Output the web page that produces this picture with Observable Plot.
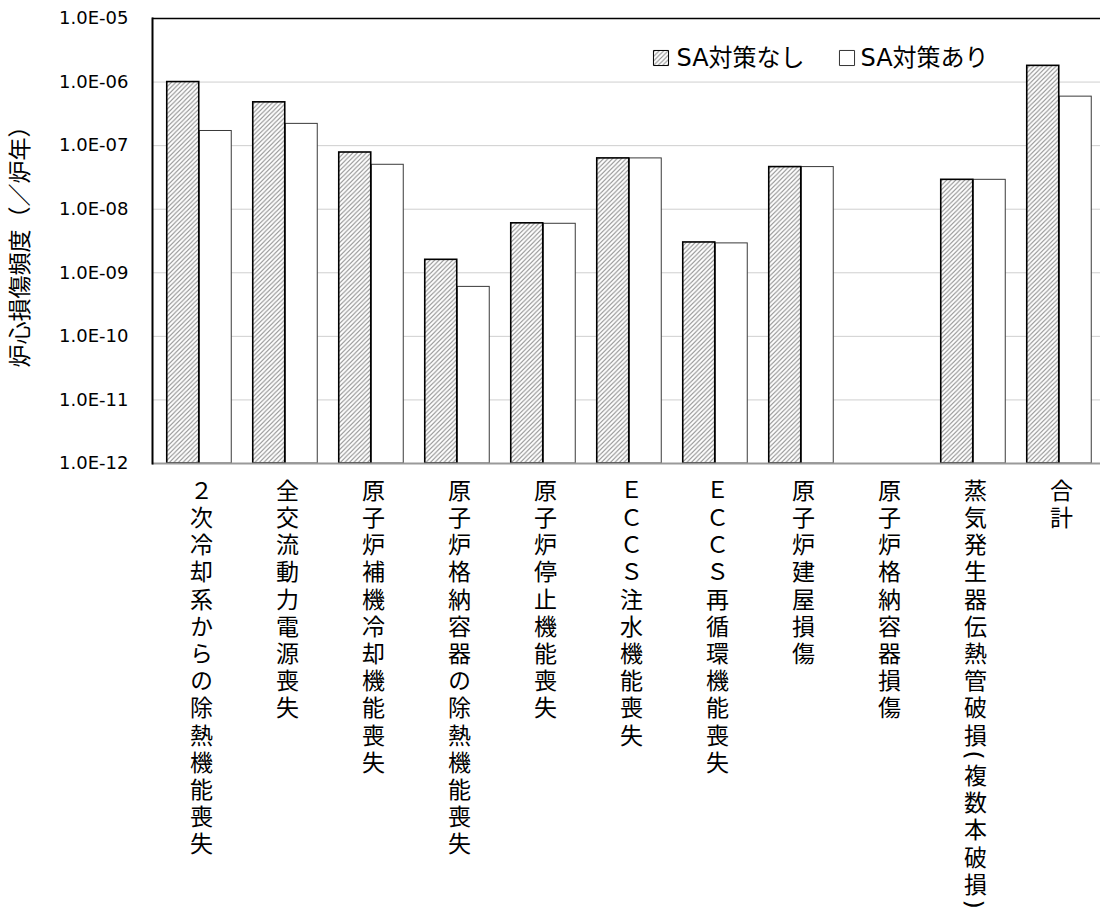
<!DOCTYPE html>
<html>
<head>
<meta charset="utf-8">
<script src="https://cdn.jsdelivr.net/npm/d3@7"></script>
<script src="https://cdn.jsdelivr.net/npm/@observablehq/plot@0.6"></script>
<style>
  body { margin: 0; background: #fff; }
  #chart svg { display: block; }
  /* category names are stacked one character per line, top to bottom */
  #chart g[aria-label="x-axis tick label"] text {
    writing-mode: vertical-rl;
    text-orientation: mixed;
    letter-spacing: 4.2px;
  }
</style>
</head>
<body>
<div id="chart"></div>
<script>
// Accident sequence groups
const categories = [
  "２次冷却系からの除熱機能喪失",
  "全交流動力電源喪失",
  "原子炉補機冷却機能喪失",
  "原子炉格納容器の除熱機能喪失",
  "原子炉停止機能喪失",
  "ＥＣＣＳ注水機能喪失",
  "ＥＣＣＳ再循環機能喪失",
  "原子炉建屋損傷",
  "原子炉格納容器損傷",
  "蒸気発生器伝熱管破損(複数本破損)",
  "合計"
];
const seriesNames = ["SA対策なし", "SA対策あり"];

// Core damage frequency (per reactor-year); null = not shown
const withoutSA = [1.0e-6, 4.8e-7, 7.8e-8, 1.6e-9, 6.0e-9, 6.3e-8, 3.0e-9, 4.6e-8, null, 2.9e-8, 1.8e-6];
const withSA    = [1.7e-7, 2.2e-7, 5.0e-8, 6.0e-10, 5.9e-9, 6.3e-8, 2.9e-9, 4.6e-8, null, 2.9e-8, 5.9e-7];

const yTicks = [1e-12, 1e-11, 1e-10, 1e-9, 1e-8, 1e-7, 1e-6, 1e-5];
const yTickLabels = ["1.0E-12", "1.0E-11", "1.0E-10", "1.0E-09", "1.0E-08", "1.0E-07", "1.0E-06", "1.0E-05"];
const yTitle = "炉心損傷頻度（／炉年）";

const rowsWithout = categories.map((c, i) => ({category: c, value: withoutSA[i]})).filter(d => d.value != null);
const rowsWith = categories.map((c, i) => ({category: c, value: withSA[i]})).filter(d => d.value != null);

const yMin = yTicks[0];

// diagonal hatch fill used for the "without SA" series
const hatchDefs = () => {
  const defs = d3.create("svg:defs");
  const p = defs.append("pattern")
    .attr("id", "hatch")
    .attr("patternUnits", "userSpaceOnUse")
    .attr("width", 4.5).attr("height", 4.5);
  p.append("rect").attr("width", 4.5).attr("height", 4.5).attr("fill", "white");
  p.append("path")
    .attr("d", "M-1,1 l2,-2 M0,4.5 l4.5,-4.5 M3.5,5.5 l2,-2")
    .attr("stroke", "#8a8a8a")
    .attr("stroke-width", 1.1);
  return defs.node();
};

const chart = Plot.plot({
  width: 1100,
  height: 912,
  marginTop: 18,
  marginBottom: 449,
  marginLeft: 152,
  marginRight: -5.7,
  style: {
    fontFamily: '"DejaVu Sans", "Noto Sans CJK JP", sans-serif',
    background: "white",
    color: "black"
  },
  x: {domain: categories, range: [152, 1105.7], paddingInner: 0.625, paddingOuter: 0.3125, axis: null},
  y: {type: "log", domain: [1e-12, 1e-5], axis: null},
  marks: [
    hatchDefs,
    Plot.gridY({ticks: yTicks.slice(1, -1), stroke: "#cfcfcf", strokeOpacity: 1, strokeWidth: 1}),
    Plot.barY(rowsWith, {
      x: "category", y1: () => yMin, y2: "value", dx: 16.25,
      fill: "white", stroke: "#3a3a3a", strokeWidth: 1
    }),
    Plot.barY(rowsWithout, {
      x: "category", y1: () => yMin, y2: "value", dx: -16.25,
      fill: "url(#hatch)", stroke: "black", strokeWidth: 1.6
    }),
    Plot.ruleY([yTicks[yTicks.length - 1]], {stroke: "black", strokeWidth: 1.6}),
    Plot.ruleY([yMin], {stroke: "#9a9a9a", strokeWidth: 2}),
    Plot.frame({anchor: "left", stroke: "black", strokeWidth: 2}),
    Plot.axisY({
      ticks: yTicks,
      tickFormat: d => yTickLabels[yTicks.indexOf(d)],
      tickSize: 0,
      tickPadding: 24,
      fontSize: 18,
      label: null
    }),
    Plot.axisX({
      tickSize: 0,
      tickPadding: 15,
      fontSize: 23,
      textAnchor: "start",
      lineAnchor: "bottom",
      tickFormat: d => d,
      label: null
    }),
    Plot.text([yTitle], {frameAnchor: "left", dx: -132, rotate: -90, textAnchor: "middle", lineAnchor: "middle", fontSize: 23, fill: "black"}),
    // legend
    Plot.dot([seriesNames[0]], {frameAnchor: "top-left", dx: 508.5, dy: 39.5, symbol: "square", r: 8.5, fill: "url(#hatch)", stroke: "black", strokeWidth: 1}),
    Plot.text([seriesNames[0]], {frameAnchor: "top-left", dx: 524, dy: 39.5, text: d => d, textAnchor: "start", lineAnchor: "middle", fontSize: 24, fill: "black"}),
    Plot.dot([seriesNames[1]], {frameAnchor: "top-left", dx: 694.5, dy: 39.5, symbol: "square", r: 8.5, fill: "white", stroke: "#333", strokeWidth: 1}),
    Plot.text([seriesNames[1]], {frameAnchor: "top-left", dx: 708, dy: 39.5, text: d => d, textAnchor: "start", lineAnchor: "middle", fontSize: 24, fill: "black"})
  ]
});

document.getElementById("chart").appendChild(chart);
</script>
</body>
</html>
